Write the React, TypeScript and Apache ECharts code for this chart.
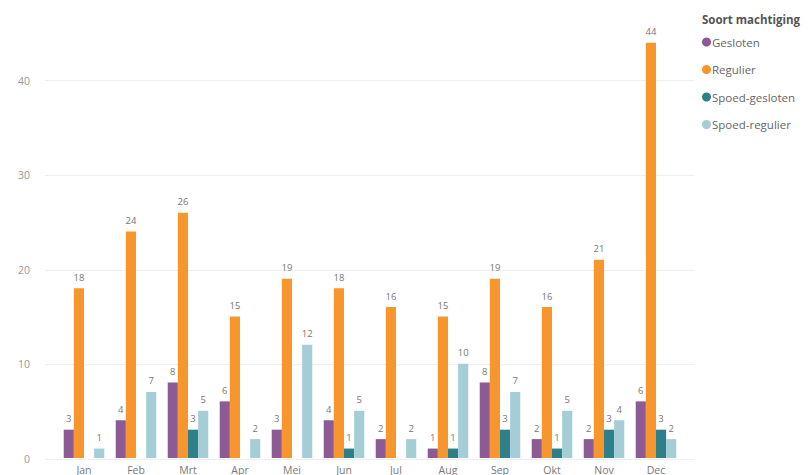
import React, { useEffect, useRef } from "react";
import * as echarts from "echarts";

const months = ["Jan", "Feb", "Mrt", "Apr", "Mei", "Jun", "Jul", "Aug", "Sep", "Okt", "Nov", "Dec"];
const gesloten = [3, 4, 8, 6, 3, 4, 2, 1, 8, 2, 2, 6];
const regulier = [18, 24, 26, 15, 19, 18, 16, 15, 19, 16, 21, 44];
const spoedGesloten = [null, null, 3, null, null, 1, null, 1, 3, 1, 3, 3];
const spoedRegulier = [1, 7, 5, 2, 12, 5, 2, 10, 7, 5, 4, 2];
const seriesNames = ["Gesloten", "Regulier", "Spoed-gesloten", "Spoed-regulier"];
const colors = ["#8c5a94", "#f7962d", "#2d7f8a", "#a4cdd6"];
const legendTitle = "Soort machtiging";
const yMax = 48;
const yInterval = 10;

const FONT = "'Segoe UI', 'Open Sans', 'Noto Sans', sans-serif";

export default function App() {
  const ref = useRef<HTMLDivElement>(null);
  useEffect(() => {
    if (!ref.current) return;
    const chart = echarts.init(ref.current, null, { renderer: "svg" });
    const values = [gesloten, regulier, spoedGesloten, spoedRegulier];
    chart.setOption({
      animation: false,
      textStyle: { fontFamily: FONT },
      color: colors,
      title: {
        text: legendTitle,
        left: 697,
        top: 8,
        textStyle: { fontSize: 11.5, fontWeight: "bold", color: "#555", fontFamily: FONT },
      },
      legend: {
        orient: "vertical",
        left: 697,
        top: 30,
        icon: "circle",
        itemWidth: 9,
        itemHeight: 9,
        itemGap: 13.5,
        data: seriesNames,
        textStyle: { fontSize: 11.5, color: "#666", padding: [0, 0, 0, -4], lineHeight: 14, fontFamily: FONT },
      },
      grid: [
        { left: 45, right: 117, top: 5, bottom: 16 },
        { left: 58, right: 130, top: 5, bottom: 16 },
      ],
      xAxis: [
        { type: "category", gridIndex: 0, data: months, show: false },
        {
          type: "category",
          gridIndex: 1,
          data: months,
          axisLine: { show: false },
          axisTick: { show: false },
          axisLabel: { color: "#777", fontSize: 10.5, margin: 6, fontFamily: FONT },
        },
      ],
      yAxis: [
        {
          type: "value",
          gridIndex: 0,
          min: 0,
          max: yMax,
          interval: yInterval,
          axisLine: { show: false },
          axisTick: { show: false },
          axisLabel: { color: "#999", fontSize: 10.5, margin: 15, showMaxLabel: false, fontFamily: FONT },
          splitLine: { lineStyle: { color: "#eeeeee", width: 1 }, showMaxLine: false },
        },
        {
          type: "value",
          gridIndex: 1,
          min: 0,
          max: yMax,
          interval: yInterval,
          show: false,
          splitLine: { show: false },
        },
      ],
      series: seriesNames.map((name, i) => ({
        name,
        type: "bar",
        xAxisIndex: 1,
        yAxisIndex: 1,
        data: values[i],
        barGap: "0%",
        barCategoryGap: "22%",
        itemStyle: { color: colors[i] },
        label: {
          show: true,
          position: "top",
          distance: 6,
          fontSize: 9.5,
          color: "#777",
          fontFamily: FONT,
        },
      })),
    });
    return () => chart.dispose();
  }, []);
  return <div ref={ref} style={{ width: 812, height: 475, position: "absolute", left: 0, top: 0 }} />;
}
